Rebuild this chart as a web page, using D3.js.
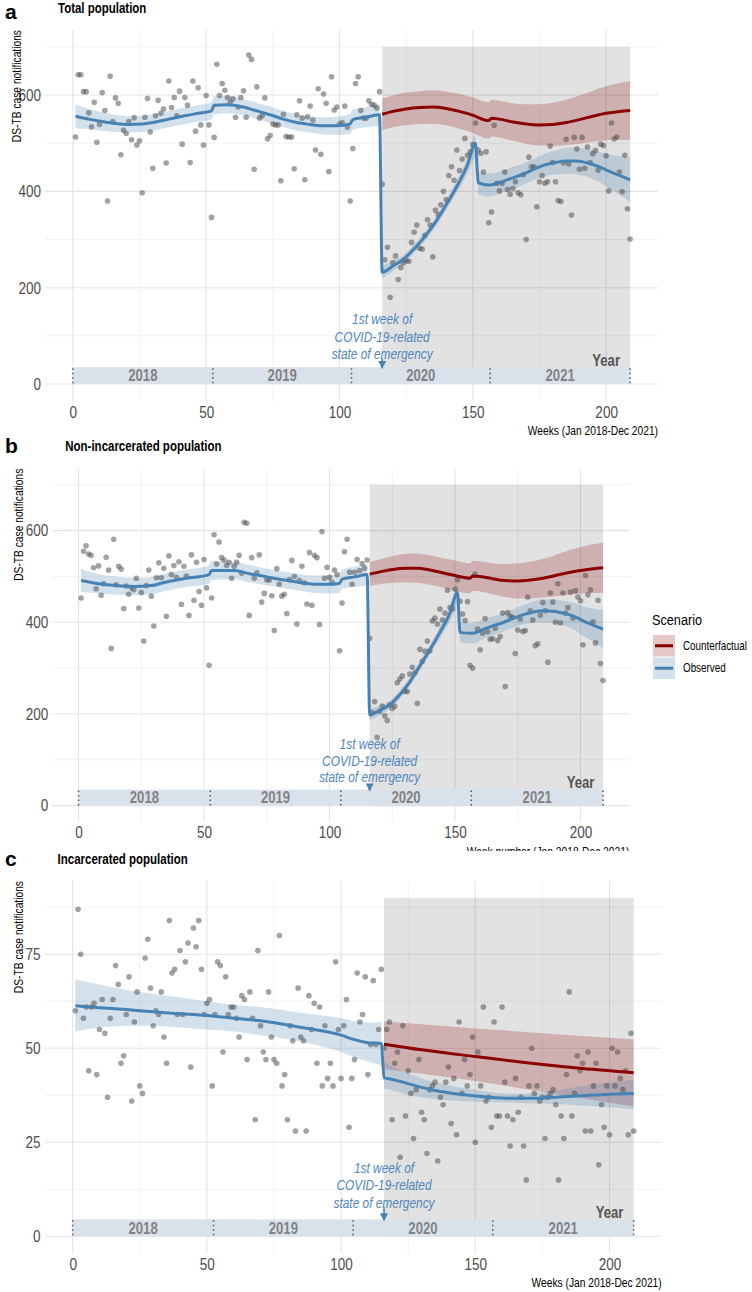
<!DOCTYPE html>
<html><head><meta charset="utf-8">
<script src="https://cdn.jsdelivr.net/npm/d3@7"></script>
<style>body{margin:0;background:#fff}svg{display:block}</style>
</head><body>
<svg id="chart" width="752" height="1292"></svg>
<script>
// ---------------- DATA ----------------
const weeks = d3.range(1, 210); // week numbers 1..209
const xTicks = [0, 50, 100, 150, 200];
const xMinorTicks = [25, 75, 125, 175];
const yTicksPop = [0, 200, 400, 600];
const yMinorPop = [100, 300, 500, 700];
const yTicksInc = [0, 25, 50, 75];
const yMinorInc = [12.5, 37.5, 62.5, 87.5];
const yearLabels = ["2018", "2019", "2020", "2021"];
const yearBreaks = [0, 52.5, 104.5, 156.5, 209];
const covidPeriod = [116, 209];
const annotationLines = ["1st week of", "COVID-19-related", "state of emergency"];
const scenarios = ["Counterfactual", "Observed"];

const casesTotal = [
513,642,642,607,607,563,534,585,502,539,605,568,380,639,545,594,583,476,527,520,
545,507,553,496,505,397,554,593,523,448,557,589,562,571,459,629,574,595,557,608,
498,595,579,460,629,525,615,538,496,599,538,346,512,664,599,624,610,595,585,592,
554,575,595,609,554,683,674,446,617,552,557,594,509,516,540,538,538,422,560,514,
513,513,447,559,588,552,424,555,577,548,486,613,477,602,583,441,638,569,575,540,
543,577,533,380,489,624,638,568,552,552,588,581,579,573,607,
415,258,284,180,252,266,217,242,252,256,255,294,315,330,282,280,309,341,330,264,
361,352,372,400,383,433,451,423,486,443,467,510,475,482,497,542,486,479,440,482,
335,357,537,417,401,417,440,404,394,406,420,397,393,435,300,471,451,451,368,420,
433,417,420,494,460,420,381,379,459,508,457,351,512,488,446,512,448,492,460,478,
485,444,498,495,474,401,542,509,513,440,399,475,364,301];

const casesNonInc = [
453,555,567,549,546,519,473,523,459,484,542,514,343,581,482,522,516,430,479,461,
476,471,496,431,465,359,480,514,457,392,497,530,497,518,413,545,504,524,498,532,
439,522,501,415,547,448,531,467,437,537,475,306,453,591,527,575,541,536,524,531,
496,522,531,546,507,618,616,415,541,496,508,547,444,463,493,492,458,382,517,483,
457,461,419,493,535,500,396,491,522,486,440,552,437,546,541,395,598,496,520,498,
487,514,504,338,442,554,581,509,483,509,537,513,528,518,536,
365,203,227,149,206,217,196,186,220,212,217,268,276,283,249,249,287,302,290,223,
341,315,337,359,338,403,409,396,429,405,420,470,432,429,472,493,446,418,404,445,
306,300,505,385,340,376,408,380,363,364,387,360,369,420,260,421,413,411,332,383,
407,380,382,455,425,405,349,353,416,443,425,313,464,444,400,484,399,464,420,432,
466,409,469,455,447,351,502,460,471,401,355,448,310,273];

const casesInc = [
60,87,75,58,61,44,61,62,43,55,63,54,37,58,63,72,67,46,48,59,
69,36,57,65,40,38,74,79,66,56,60,59,65,53,46,84,70,71,59,76,
59,73,78,45,82,77,84,71,59,62,63,40,59,73,72,49,69,59,61,61,
58,53,64,63,47,65,58,31,76,56,49,47,65,53,47,46,80,40,43,31,
56,52,28,66,53,52,28,64,55,62,46,61,40,56,42,46,40,73,55,42,
56,63,29,42,47,70,57,59,69,43,51,68,51,55,71,
50,55,57,31,46,49,21,56,32,44,38,26,39,47,33,31,22,39,40,41,
20,37,35,41,45,30,42,27,57,38,47,40,43,53,25,49,40,61,36,37,
29,57,32,32,61,41,32,24,31,42,33,37,24,15,40,50,38,40,36,37,
26,37,38,39,35,15,32,26,43,65,32,38,48,44,46,28,49,28,40,46,
19,35,29,40,27,50,40,49,42,39,44,27,54,28];

// fitted observed trend (with 95% band)
const obsWeeksTotal = [1,6,11,16,21,26,31,36,42,47,52,53,58,64,69,74,79,84,89,94,99,104,105,110,115,
  116,120,124,128,132,136,140,144,148,151,152,156,161,165,169,173,177,181,185,189,193,197,201,205,209];
const obsFitTotal = [556,550,545,541,539,540,544,550,557,562,567,579,580,575,567,559,550,543,539,536,536,540,549,554,559,
  232,245,259,281,306,336,372,410,455,500,418,413,420,428,436,446,455,460,463,463,459,452,442,433,424];
const obsLoTotal = [531,529,526,523,522,523,527,533,540,545,549,560,562,558,550,542,533,526,522,518,517,519,528,533,536,
  218,234,250,272,297,326,361,397,437,476,394,389,397,405,414,424,432,435,436,435,430,421,407,393,377];
const obsHiTotal = [581,571,564,559,556,557,561,567,574,579,585,598,598,592,584,576,567,560,556,554,555,561,570,575,582,
  246,256,268,290,315,346,383,423,473,524,442,437,443,451,458,468,478,485,490,491,488,483,477,473,471];

const cfWeeks = [116,120,125,130,135,140,145,150,156,157,160,165,170,175,180,185,190,195,200,205,209];
const cfFitTotal = [560,566,571,574,575,572,566,558,547,552,550,544,540,538,539,543,549,556,562,566,568];
const cfLoTotal = [527,533,537,540,540,537,530,521,509,514,512,505,499,495,494,496,499,503,506,507,507];
const cfHiTotal = [593,599,605,608,610,607,602,595,585,590,588,583,581,581,584,590,599,609,618,625,629];

const obsWeeksNonInc = [1,8,15,22,29,35,43,52,53,62,68,75,82,88,95,101,104,105,110,115,
  116,120,124,128,132,136,140,144,148,151,152,157,161,165,169,173,177,181,185,189,193,197,201,205,209];
const obsFitNonInc = [491,484,480,478,480,488,496,504,513,513,506,499,492,487,483,483,485,494,499,504,
  198,208,220,242,270,305,340,378,420,465,378,376,384,392,399,408,416,422,425,424,420,414,403,394,385];
const obsLoNonInc = [466,463,460,459,461,469,477,484,492,494,487,481,474,469,464,463,464,473,477,480,
  185,198,211,233,261,295,329,365,402,441,356,354,363,371,379,388,395,399,400,398,393,385,371,358,343];
const obsHiNonInc = [516,505,500,497,499,507,515,524,534,532,525,517,510,505,502,503,506,515,521,528,
  211,218,229,251,279,315,351,391,438,489,400,398,405,413,419,428,437,445,450,450,447,443,435,430,427];

const cfFitNonInc = [505,510,515,518,518,514,508,502,496,501,500,495,491,490,492,496,502,508,513,517,519];
const cfLoNonInc = [479,483,486,487,486,482,476,469,463,468,467,461,455,452,452,454,457,460,462,464,464];
const cfHiNonInc = [531,537,544,549,550,546,540,535,529,534,533,529,527,528,532,538,547,556,564,570,574];

const obsWeeksInc = [1,10,20,30,40,50,60,70,80,90,100,105,110,115,
  116,118,122,126,130,135,140,145,150,155,160,165,170,175,180,185,190,195,200,205,209];
const obsFitInc = [61.3,60.8,60.3,59.7,59.2,58.7,58.0,57.3,56.2,55.0,53.5,52.3,51.5,51.3,
  42.2,41.9,41.2,40.4,39.6,38.8,38.2,37.7,37.3,37.0,36.8,36.7,36.7,36.8,37.0,37.2,37.4,37.6,37.8,37.9,38.0];
const obsLoInc = [54.5,55.5,56,56,55.5,55,54.5,53.5,52.5,51,49,47.5,46.5,45.5,
  39.3,39,38.2,37.5,37,36.5,36.2,36,35.8,35.7,35.6,35.5,35.4,35.3,35.2,35,34.8,34.6,34.3,34,33.8];
const obsHiInc = [68.3,67,65.5,64.5,63.5,62.5,61.5,61,60,59,58,57.2,56.8,57,
  46.5,45.5,44.2,43,42,41,40.2,39.5,38.9,38.4,38,37.9,38,38.3,38.8,39.4,40,40.5,41,41.3,41.5];

const cfWeeksInc = [116,130,150,170,190,209];
const cfFitInc = [51.1,49.6,47.8,46.1,44.6,43.5];
const cfLoInc = [44.5,43.2,41.3,39,36.7,34.5];
const cfHiInc = [57.1,56.4,55.3,54.3,53.3,52.4];

// ---------------- DRAWING ----------------
const FONT = "'Liberation Sans',Arial,sans-serif";
const NARROW = 0.82; // horizontal compression to mimic a narrow sans face
const BLUE = "#4682b4", RED = "#8b0000";
const svg = d3.select("#chart");
svg.append("rect").attr("width", 752).attr("height", 1292).attr("fill", "#fff");

const defs = svg.append("defs");
defs.append("marker").attr("id", "arrowhead").attr("viewBox", "0 0 10 10")
  .attr("refX", 9).attr("refY", 5).attr("markerWidth", 5).attr("markerHeight", 5)
  .attr("orient", "auto")
  .append("path").attr("d", "M0,0L10,5L0,10Z").attr("fill", BLUE);

// narrow text helper: places text at (x,y), compressed horizontally
function ntext(parent, x, y, str, o = {}) {
  const t = parent.append("text")
    .attr("transform", `translate(${x},${y})${o.rotate ? ` rotate(${o.rotate})` : ""} scale(${NARROW},1)`)
    .attr("font-family", FONT).attr("font-size", o.size || 12)
    .attr("fill", o.fill || "#000")
    .attr("text-anchor", o.anchor || "start");
  if (o.bold) t.attr("font-weight", "bold");
  if (o.italic) t.attr("font-style", "italic");
  if (o.dy) t.attr("dy", o.dy);
  t.text(str);
  return t;
}

function zip(w, f, lo, hi) { return w.map((d, i) => ({ w: d, f: f[i], lo: lo[i], hi: hi[i] })); }
function split(arr, breaks) {
  const segs = []; let cur = [];
  arr.forEach(d => {
    if (cur.length && breaks.some(b => cur[cur.length - 1].w < b && d.w >= b)) { segs.push(cur); cur = []; }
    cur.push(d);
  });
  if (cur.length) segs.push(cur);
  return segs;
}

function drawPanel(p, idx) {
  const g = svg.append("g");
  const x = d3.scaleLinear().domain([-10.45, 219.45]).range([p.left, p.right]);
  const y = d3.scaleLinear().domain([-p.ymax * 0.05, p.ymax * 1.05]).range([p.bottom, p.top]);

  const clipId = "clip" + idx;
  defs.append("clipPath").attr("id", clipId).append("rect")
    .attr("x", p.left).attr("y", p.top).attr("width", p.right - p.left).attr("height", p.bottom - p.top);

  // grid
  g.selectAll(".ymin").data(p.yMinor).join("line")
    .attr("x1", p.left).attr("x2", p.right).attr("y1", d => y(d)).attr("y2", d => y(d))
    .attr("stroke", "#ededed").attr("stroke-width", 0.7);
  g.selectAll(".xmin").data(xMinorTicks).join("line")
    .attr("y1", p.top).attr("y2", p.bottom).attr("x1", d => x(d)).attr("x2", d => x(d))
    .attr("stroke", "#ededed").attr("stroke-width", 0.7);
  g.selectAll(".ymaj").data(p.yTicks).join("line")
    .attr("x1", p.left).attr("x2", p.right).attr("y1", d => y(d)).attr("y2", d => y(d))
    .attr("stroke", "#e4e4e4").attr("stroke-width", 1.1);
  g.selectAll(".xmaj").data(xTicks).join("line")
    .attr("y1", p.top).attr("y2", p.bottom).attr("x1", d => x(d)).attr("x2", d => x(d))
    .attr("stroke", "#e4e4e4").attr("stroke-width", 1.1);

  // covid period shading
  g.append("rect").attr("x", x(covidPeriod[0])).attr("width", x(covidPeriod[1]) - x(covidPeriod[0]))
    .attr("y", y(p.ymax)).attr("height", y(0) - y(p.ymax))
    .attr("fill", "#000").attr("fill-opacity", 0.115);

  // year band
  const bandTop = p.ymax * 0.05;
  g.append("rect").attr("x", x(0)).attr("width", x(209) - x(0))
    .attr("y", y(bandTop)).attr("height", y(0) - y(bandTop)).attr("fill", "#d9e1ea");
  g.selectAll(".sep").data(yearBreaks).join("line")
    .attr("x1", d => x(d)).attr("x2", d => x(d)).attr("y1", y(bandTop) + 1).attr("y2", y(0))
    .attr("stroke", "#555").attr("stroke-width", 1.5).attr("stroke-dasharray", "1.5,3");
  yearLabels.forEach((d, i) => ntext(g, x((yearBreaks[i] + yearBreaks[i + 1]) / 2), (y(bandTop) + y(0)) / 2, d,
    { anchor: "middle", bold: true, size: 16, fill: "#828282", dy: "0.36em" }));
  ntext(g, x(200), y(bandTop) - 1.5, "Year", { anchor: "middle", bold: true, size: 16, fill: "#555" });

  const pg = g.append("g").attr("clip-path", `url(#${clipId})`);
  const area = d3.area().x(d => x(d.w)).y0(d => y(d.lo)).y1(d => y(d.hi)).curve(d3.curveMonotoneX);
  const line = d3.line().x(d => x(d.w)).y(d => y(d.f)).curve(d3.curveMonotoneX);

  const cf = zip(p.cfW, p.cfF, p.cfLo, p.cfHi);
  const obs = zip(p.obsW, p.obsF, p.obsLo, p.obsHi);

  pg.append("path").attr("d", area(cf)).attr("fill", RED).attr("fill-opacity", 0.22);
  split(obs, p.breaks).forEach(s => pg.append("path").attr("d", area(s)).attr("fill", BLUE).attr("fill-opacity", 0.24));

  // points
  pg.selectAll("circle").data(p.cases).join("circle")
    .attr("cx", (d, i) => x(weeks[i])).attr("cy", d => y(d)).attr("r", 2.8)
    .attr("fill", "#4d4d4d").attr("fill-opacity", 0.52);

  pg.append("path").attr("d", line(cf)).attr("fill", "none").attr("stroke", RED).attr("stroke-width", 3);
  pg.append("path").attr("d", line(obs)).attr("fill", "none").attr("stroke", BLUE).attr("stroke-width", 3);

  // annotation
  annotationLines.forEach((s, i) => ntext(g, x(116), y(p.annY[i]), s,
    { anchor: "middle", italic: true, size: 14.5, fill: "#4f86bd", dy: "0.35em" }));
  g.append("line").attr("x1", x(116)).attr("x2", x(116)).attr("y1", y(p.arrowY)).attr("y2", y(bandTop) + 1)
    .attr("stroke", BLUE).attr("stroke-width", 1.6).attr("marker-end", "url(#arrowhead)");

  // axes labels
  const ya = g.append("g").attr("transform", `translate(${p.left},0)`)
    .call(d3.axisLeft(y).tickValues(p.yTicks).tickSize(0).tickPadding(4));
  ya.select(".domain").remove();
  ya.selectAll("text").attr("font-family", FONT).attr("font-size", 16.5).attr("fill", "#4d4d4d")
    .attr("transform", `scale(${NARROW},1)`).attr("x", -4 / NARROW);
  const xa = g.append("g").attr("transform", `translate(0,${p.bottom})`)
    .call(d3.axisBottom(x).tickValues(xTicks).tickSize(0).tickPadding(5));
  xa.select(".domain").remove();
  xa.selectAll("text").attr("font-family", FONT).attr("font-size", 16.5).attr("fill", "#4d4d4d")
    .attr("transform", `scale(${NARROW},1)`);

  // titles
  g.append("text").attr("x", 5).attr("y", p.letterY).attr("font-family", FONT).attr("font-weight", "bold")
    .attr("font-size", 21).attr("fill", "#000").text(p.letter);
  ntext(g, p.left + 13, p.titleY, p.title, { bold: true, size: 14 });
  ntext(g, p.yTitleX, p.top, "DS-TB case notifications", { rotate: -90, anchor: "end", size: 12.5 });
  const xt = ntext(g, p.right, p.bottom + 34, p.xTitle, { anchor: "end", size: 12.5 });
  if (p.xTitleClip) {
    const w = g.append("g");
    defs.append("clipPath").attr("id", "xtclip").append("rect").attr("x", 0).attr("y", 0).attr("width", 752).attr("height", p.xTitleClip);
    w.attr("clip-path", "url(#xtclip)");
    w.node().appendChild(xt.node());
  }
}

drawPanel({letter: "a", title: "Total population", left: 45, right: 658, top: 30, bottom: 400.9, ymax: 700,
  yTicks: yTicksPop, yMinor: yMinorPop, cases: casesTotal,
  obsW: obsWeeksTotal, obsF: obsFitTotal, obsLo: obsLoTotal, obsHi: obsHiTotal, breaks: [116, 152],
  cfW: cfWeeks, cfF: cfFitTotal, cfLo: cfLoTotal, cfHi: cfHiTotal,
  annY: [135, 98, 62], arrowY: 53, letterY: 19, titleY: 12.5, yTitleX: 21,
  xTitle: "Weeks (Jan 2018-Dec 2021)"}, 0);

drawPanel({letter: "b", title: "Non-incarcerated population", left: 52.3, right: 629.3, top: 468.7, bottom: 821.7, ymax: 700,
  yTicks: yTicksPop, yMinor: yMinorPop, cases: casesNonInc,
  obsW: obsWeeksNonInc, obsF: obsFitNonInc, obsLo: obsLoNonInc, obsHi: obsHiNonInc, breaks: [116, 152],
  cfW: cfWeeks, cfF: cfFitNonInc, cfLo: cfLoNonInc, cfHi: cfHiNonInc,
  annY: [135, 98, 62], arrowY: 47, letterY: 453, titleY: 451, yTitleX: 23,
  xTitle: "Week number (Jan 2018-Dec 2021)", xTitleClip: 851}, 1);

drawPanel({letter: "c", title: "Incarcerated population", left: 44.6, right: 661.7, top: 881, bottom: 1253.2, ymax: 90,
  yTicks: yTicksInc, yMinor: yMinorInc, cases: casesInc,
  obsW: obsWeeksInc, obsF: obsFitInc, obsLo: obsLoInc, obsHi: obsHiInc, breaks: [116],
  cfW: cfWeeksInc, cfF: cfFitInc, cfLo: cfLoInc, cfHi: cfHiInc,
  annY: [18.2, 13.6, 8.9], arrowY: 7.7, letterY: 866, titleY: 864, yTitleX: 23,
  xTitle: "Weeks (Jan 2018-Dec 2021)"}, 2);

// legend
const lg = svg.append("g");
ntext(lg, 652, 625, "Scenario", { size: 15.5 });
scenarios.forEach((s, i) => {
  const c = i === 0 ? RED : BLUE;
  const yy = 635 + i * 22.5;
  lg.append("rect").attr("x", 653).attr("y", yy).attr("width", 22).attr("height", 21.5).attr("fill", c).attr("fill-opacity", i === 0 ? 0.22 : 0.24);
  lg.append("line").attr("x1", 655).attr("x2", 673).attr("y1", yy + 10.75).attr("y2", yy + 10.75).attr("stroke", c).attr("stroke-width", 3);
  ntext(lg, 683, yy + 10.75, s, { size: 12, dy: "0.35em" });
});
</script>
</body></html>
